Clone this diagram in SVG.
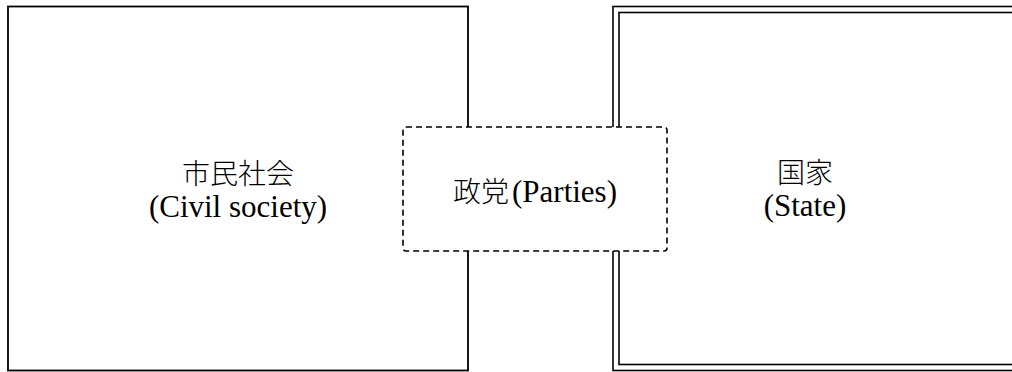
<svg xmlns="http://www.w3.org/2000/svg" width="1012" height="372" viewBox="0 0 1012 372">
<style>
.box{fill:#fff;stroke:#000;stroke-width:1.8}
.dbl{fill:none;stroke:#000;stroke-width:1.6}
.dash{fill:#fff;stroke:#000;stroke-width:1.6;stroke-dasharray:6 4}
.t{font-family:"Liberation Serif","Noto Sans CJK JP",serif;font-size:31px;fill:#000;text-anchor:middle}
.j{font-family:"Noto Sans CJK JP","Liberation Serif",sans-serif;font-size:28px;font-weight:300}
</style>
<g id="civil-society">
<rect class="box" x="8" y="6.5" width="460" height="364"/>
<text class="t j" x="238" y="184">市民社会</text>
<text class="t" x="238" y="217">(Civil society)</text>
</g>
<g id="state">
<rect class="dbl" x="613" y="6.5" width="420" height="364"/>
<rect class="dbl" x="619" y="12.5" width="408" height="352"/>
<text class="t j" x="805" y="183">国家</text>
<text class="t" x="805" y="216">(State)</text>
</g>
<g id="parties">
<rect class="dash" x="403" y="127" width="264" height="124" rx="3"/>
<text class="t" x="535" y="202"><tspan class="j">政党</tspan><tspan dx="3">(Parties)</tspan></text>
</g>
<g id="connectors"></g>
</svg>
